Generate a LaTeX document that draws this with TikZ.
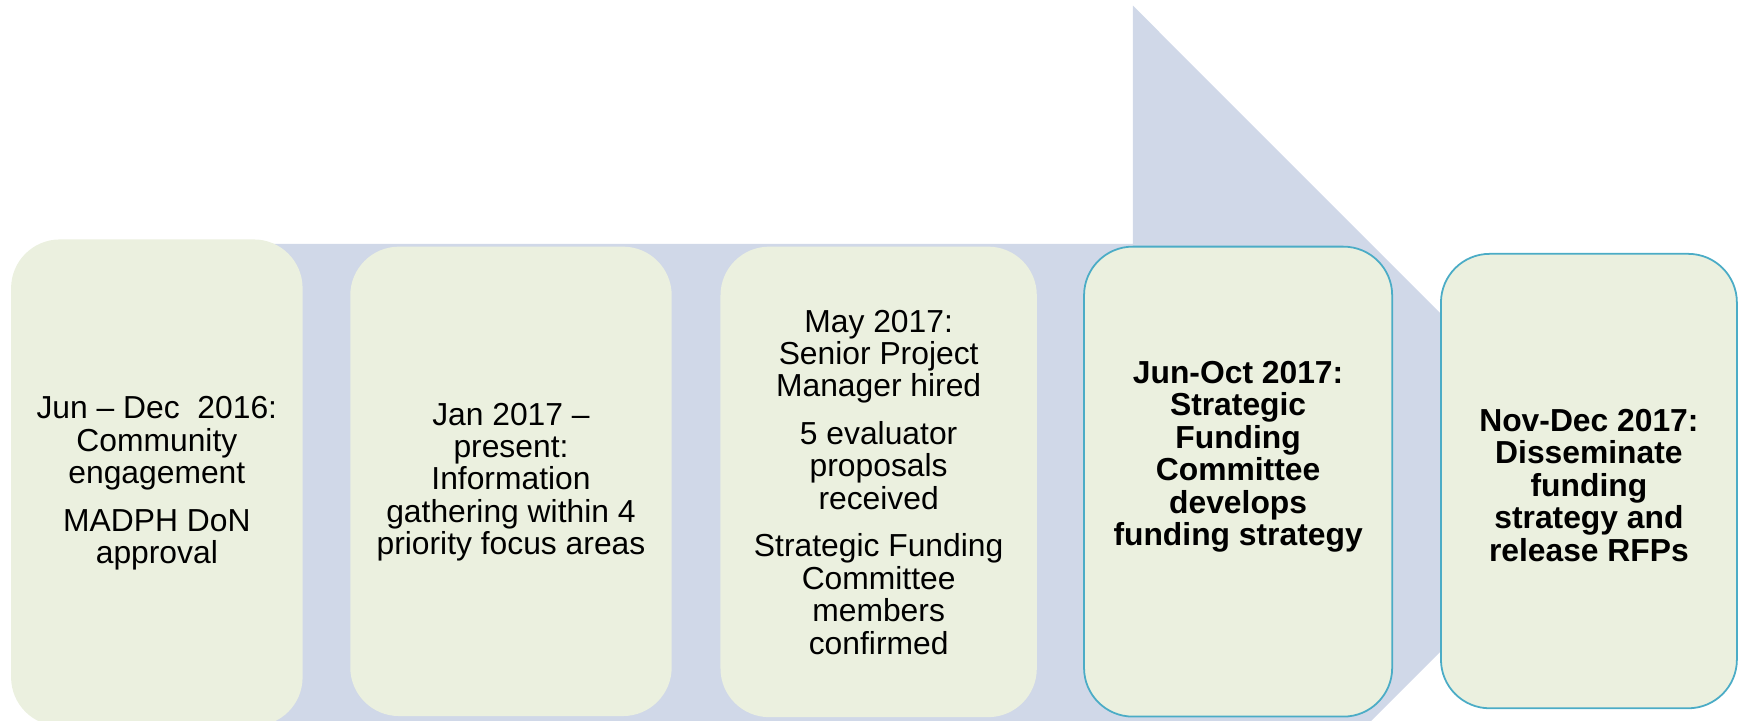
\documentclass[tikz,border=0pt]{standalone}
\usepackage{fontspec}
\setmainfont{Liberation Sans}
\definecolor{arrowfill}{HTML}{D0D8E8}
\definecolor{boxfill}{HTML}{EBF0DF}
\definecolor{teal}{HTML}{4BACC6}
\tikzset{
  stagebox/.style={rectangle, rounded corners=22pt, fill=boxfill, draw=none, inner sep=0pt},
  keybox/.style={stagebox, draw=teal, line width=0.8pt},
  stagetext/.style={align=center, inner sep=0pt, font=\fontsize{14.35pt}{14.65pt}\selectfont, text=black},
  keytext/.style={stagetext, font=\fontsize{14.35pt}{14.65pt}\selectfont\bfseries}
}
\begin{document}
\begin{tikzpicture}[x=0.5pt, y=-0.5pt]
\useasboundingbox (0,0) rectangle (1568,650);
\clip (0,0) rectangle (1568,650);
% big background arrow
\fill[arrowfill] (42,220) -- (1022,220) -- (1022,5) -- (1452,435.3) -- (1022,865.6) -- (1022,650.6) -- (42,650.6) -- cycle;
% boxes
\node[stagebox, minimum width=131.5pt, minimum height=219.5pt] (b1) at (141.5,435.5) {};
\node[stagebox, minimum width=145pt, minimum height=211.75pt] (b2) at (461,434.25) {};
\node[stagebox, minimum width=142.7pt, minimum height=212.25pt] (b3) at (792.7,434.75) {};
\node[keybox, minimum width=139pt, minimum height=212pt] (b4) at (1117,434.5) {};
\node[keybox, minimum width=133.5pt, minimum height=205pt] (b5) at (1433.5,434) {};
% texts
\node[stagetext] (t1) at (141.5,436) {Jun -- Dec\ \ 2016:\\Community\\engagement\\[6.75pt]MADPH DoN\\approval};
\node[stagetext] (t2) at (461,435) {Jan 2017 --\\present:\\Information\\gathering within 4\\priority focus areas};
\node[stagetext] (t3) at (792.7,435) {May 2017:\\Senior Project\\Manager hired\\[6.75pt]5 evaluator\\proposals\\received\\[6.75pt]Strategic Funding\\Committee\\members\\confirmed};
\node[keytext] (t4) at (1117,412) {Jun-Oct 2017:\\Strategic\\Funding\\Committee\\develops\\funding strategy};
\node[keytext] (t5) at (1433.5,438) {Nov-Dec 2017:\\Disseminate\\funding\\strategy and\\release RFPs};
\end{tikzpicture}
\end{document}
